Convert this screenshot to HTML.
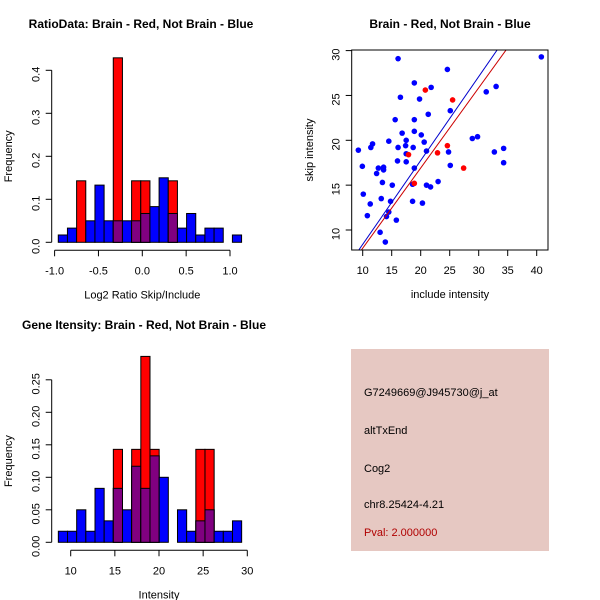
<!DOCTYPE html>
<html><head><meta charset="utf-8"><style>
body{margin:0;background:#fff}
svg{display:block;font-family:"Liberation Sans",sans-serif}
</style></head><body>
<svg id="s" width="600" height="600" xmlns="http://www.w3.org/2000/svg">
<rect x="351" y="349" width="198" height="202" fill="#e6c8c2"/>
<g font-size="11" fill="#000">
<text x="364" y="396">G7249669@J945730@j_at</text>
<text x="364" y="434">altTxEnd</text>
<text x="364" y="472">Cog2</text>
<text x="364" y="508">chr8.25424-4.21</text>
<text x="364" y="536" fill="#b00000">Pval: 2.000000</text>
</g>
</svg>
<script>
// Histogram 1: ratio
const h1Blue=[0.017,0.033,0,0.05,0.133,0.05,0.05,0.05,0.05,0.067,0.083,0.15,0.067,0.033,0.067,0.017,0.033,0.033,0,0.017];
const h1Red=[0,0,0.143,0,0,0,0.429,0,0.143,0.143,0,0,0.143,0,0,0,0,0,0,0];
const h1XTicks=[-1.0,-0.5,0.0,0.5,1.0];
const h1XLabels=["-1.0","-0.5","0.0","0.5","1.0"];
const h1YTicks=[0,0.1,0.2,0.3,0.4];
const h1YLabels=["0.0","0.1","0.2","0.3","0.4"];
// Histogram 2: intensity
const h2Blue=[0.017,0.017,0.05,0.017,0.083,0.033,0.083,0.05,0.117,0.083,0.133,0.1,0,0.05,0.017,0.033,0.05,0.017,0.017,0.033];
const h2Red=[0,0,0,0,0,0,0.143,0,0.143,0.286,0.143,0,0,0,0,0.143,0.143,0,0,0];
const h2XTicks=[10,15,20,25,30];
const h2YTicks=[0,0.05,0.1,0.15,0.2,0.25];
const h2YLabels=["0.00","0.05","0.10","0.15","0.20","0.25"];
// Scatter
const blueX=[9.25,9.94,10.1,10.8,11.3,11.4,11.7,12.4,12.7,13.6,13.6,13.4,13.2,13.0,13.9,14.1,14.5,14.8,14.5,15.1,15.6,15.8,16.0,16.1,16.1,16.5,16.8,17.4,17.5,17.5,17.5,18.6,18.6,18.7,18.9,18.9,18.9,18.9,19.8,20.1,20.3,20.6,21.0,21.0,21.3,21.7,21.8,23.0,24.6,24.8,25.1,25.1,28.9,29.8,31.3,32.7,33.0,34.3,34.3,40.8];
const blueY=[18.9,17.1,14.0,11.6,12.9,19.2,19.6,16.3,16.9,17.0,16.7,15.3,13.5,9.74,8.66,11.5,12.0,13.2,19.9,15.0,22.3,11.1,17.7,19.2,29.1,24.8,20.8,19.4,20.0,18.5,17.6,13.2,15.1,19.2,16.9,21.0,22.3,26.4,24.6,20.6,13.0,19.8,18.8,15.0,22.9,14.8,25.9,15.4,27.9,18.7,23.3,17.2,20.2,20.4,25.4,18.7,26.0,19.1,17.5,29.3];
const redX=[20.8,25.5,24.6,22.9,17.9,27.4,18.9];
const redY=[25.6,24.5,19.4,18.6,18.4,16.9,15.2];
const xTicksS=[10,15,20,25,30,35,40];
const yTicksS=[10,15,20,25,30];
const blueLine=[0.935,-0.95]; // slope, intercept
const redLine=[0.894,-0.97];

const svg=document.getElementById('s');
const NS='http://www.w3.org/2000/svg';
function mk(tag,attrs,parent){const e=document.createElementNS(NS,tag);for(const k in attrs)e.setAttribute(k,attrs[k]);(parent||svg).appendChild(e);return e;}
function txt(x,y,s,size,anchor,rot,weight,parent){const t=mk('text',{x:x,y:y,'font-size':size,'text-anchor':anchor||'middle'},parent);if(rot)t.setAttribute('transform','rotate(-90 '+x+' '+y+')');if(weight)t.setAttribute('font-weight',weight);t.textContent=s;return t;}

function hist(cfg){
  const g=mk('g',{});
  
  
  const xs=v=>cfg.x0px+(v-cfg.x0)*cfg.pxPerX;
  const ys=v=>cfg.y0px-v*cfg.pxPerY;
  for(let i=0;i<cfg.blue.length;i++){
    const a=xs(cfg.start+i*cfg.bw), b=xs(cfg.start+(i+1)*cfg.bw);
    const bl=cfg.blue[i], rd=cfg.red[i];
    if(bl>0){const r=mk('rect',{x:a,y:ys(bl),width:b-a,height:ys(0)-ys(bl),fill:'#0000ff',stroke:'#000','stroke-width':1},g);
      }
    if(rd>0){const r=mk('rect',{x:a,y:ys(rd),width:b-a,height:ys(0)-ys(rd),fill:'#ff0000',stroke:'#000','stroke-width':1},g);
      
      const m=Math.min(bl,rd);
      if(m>0){const p=mk('rect',{x:a,y:ys(m),width:b-a,height:ys(0)-ys(m),fill:'#800080',stroke:'#000','stroke-width':1},g);
        }}
  }
  // y axis
  const yt=cfg.yTicks;
  mk('line',{x1:cfg.yAxisX,x2:cfg.yAxisX,y1:ys(yt[0]),y2:ys(yt[yt.length-1]),stroke:'#000'},g);
  yt.forEach((v,i)=>{mk('line',{x1:cfg.yAxisX-6,x2:cfg.yAxisX,y1:ys(v),y2:ys(v),stroke:'#000'},g);
    txt(cfg.yAxisX-12,ys(v)+4,cfg.yLabels[i],11,'middle',true,null,g);});
  const xt=cfg.xTicks;
  mk('line',{x1:xs(xt[0]),x2:xs(xt[xt.length-1]),y1:cfg.xAxisY,y2:cfg.xAxisY,stroke:'#000'},g);
  xt.forEach((v,i)=>{mk('line',{x1:xs(v),x2:xs(v),y1:cfg.xAxisY,y2:cfg.xAxisY+6,stroke:'#000'},g);
    txt(xs(v),cfg.xAxisY+24,cfg.xLabels[i],11,'middle',false,null,g);});
  const t=txt(cfg.titleX,cfg.titleY,cfg.title,12,'middle',false,'bold',g);
  
  const xl=txt(xs((xt[0]+xt[xt.length-1])/2),cfg.xAxisY+48,cfg.xlab,11,'middle',false,null,g);
  
  const yl=txt(12,(ys(yt[0])+ys(yt[yt.length-1]))/2,'Frequency',11,'middle',true,null,g);
  
}
hist({name:'ratio-histogram',blue:h1Blue,red:h1Red,x0:0,x0px:142.3,pxPerX:87.7,start:-0.958,bw:0.1045,
  y0px:242.3,pxPerY:430,yTicks:h1YTicks,yLabels:h1YLabels,yAxisX:51.7,xTicks:h1XTicks,xLabels:h1XLabels,xAxisY:250.3,
  title:'RatioData: Brain - Red, Not Brain - Blue',titleX:141,titleY:28,xlab:'Log2 Ratio Skip/Include'});
hist({name:'intensity-histogram',blue:h2Blue,red:h2Red,x0:10,x0px:70.7,pxPerX:8.83,start:8.6,bw:1.038,
  y0px:542.3,pxPerY:650,yTicks:h2YTicks,yLabels:h2YLabels,yAxisX:51.7,xTicks:h2XTicks,xLabels:h2XTicks.map(String),xAxisY:550.3,
  title:'Gene Itensity: Brain - Red, Not Brain - Blue',titleX:144,titleY:329,xlab:'Intensity'});

// scatter
(function(){
  const g=mk('g',{});
  
  
  const L=351.7,R=548,T=50,B=250;
  const xs=v=>362.7+(v-10)*5.8;
  const ys=v=>230-(v-10)*8.97;
  mk('clipPath',{id:'cp'},g).appendChild(Object.assign(document.createElementNS(NS,'rect'),{}));
  const cr=g.querySelector('#cp');cr.firstChild.setAttribute('x',L);cr.firstChild.setAttribute('y',T);cr.firstChild.setAttribute('width',R-L);cr.firstChild.setAttribute('height',B-T);
  blueX.forEach((x,i)=>{const c=mk('circle',{cx:xs(x),cy:ys(blueY[i]),r:2.8,fill:'#0000ff'},g);
    });
  redX.forEach((x,i)=>{const c=mk('circle',{cx:xs(x),cy:ys(redY[i]),r:2.8,fill:'#ff0000'},g);
    });
  [[blueLine,'#0000cc','blue-fit-line'],[redLine,'#cc0000','red-fit-line']].forEach(([ln,col,nm])=>{
    const l=mk('line',{x1:xs(5),y1:ys(ln[0]*5+ln[1]),x2:xs(45),y2:ys(ln[0]*45+ln[1]),stroke:col,'stroke-width':1,'clip-path':'url(#cp)'},g);
    });
  mk('rect',{x:L,y:T,width:R-L,height:B-T,fill:'none',stroke:'#000'},g);
  xTicksS.forEach(v=>{mk('line',{x1:xs(v),x2:xs(v),y1:B,y2:B+6,stroke:'#000'},g);txt(xs(v),B+24,String(v),11,'middle',false,null,g);});
  yTicksS.forEach(v=>{mk('line',{x1:L-6,x2:L,y1:ys(v),y2:ys(v),stroke:'#000'},g);txt(L-12,ys(v)+4,String(v),11,'middle',true,null,g);});
  const t=txt(450,28,'Brain - Red, Not Brain - Blue',12,'middle',false,'bold',g);
  
  const xl=txt(450,298,'include intensity',11,'middle',false,null,g);
  
  const yl=txt(313,150,'skip intensity',11,'middle',true,null,g);
  
})();
</script>
</body></html>
